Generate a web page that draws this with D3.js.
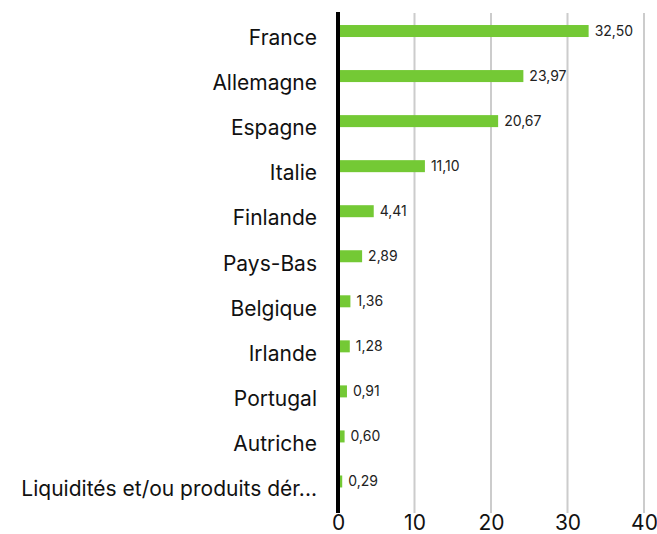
<!DOCTYPE html>
<html>
<head>
<meta charset="utf-8">
<script src="https://cdn.jsdelivr.net/npm/d3@7"></script>
<style>
  body { margin: 0; background: #fff; }
  text { font-family: "Inter", "Roboto", sans-serif; }
</style>
</head>
<body>
<div id="chart"></div>
<script>
const countries = ["France", "Allemagne", "Espagne", "Italie", "Finlande", "Pays-Bas",
    "Belgique", "Irlande", "Portugal", "Autriche", "Liquidités et/ou produits dér..."];
const weights = [32.50, 23.97, 20.67, 11.10, 4.41, 2.89, 1.36, 1.28, 0.91, 0.60, 0.29];
const xTicks = [0, 10, 20, 30, 40];

const svg = d3.select("#chart").append("svg").attr("width", 657).attr("height", 534);
const margin = { top: 12, right: 13, bottom: 21, left: 338 };
const width = 657 - margin.left - margin.right;
const height = 534 - margin.top - margin.bottom;
const g = svg.append("g").attr("transform", `translate(${margin.left},${margin.top})`);

const x = d3.scaleLinear().domain([0, 40]).range([0, 306]);
const y = d3.scaleBand().domain(countries).range([-3.5, height - 9]).padding(0);
const barH = 12;
const fmt = v => d3.format(".2f")(v).replace(".", ",");

// gridlines
g.selectAll(".grid")
    .data(xTicks.slice(1))
    .enter().append("line")
    .attr("class", "grid")
    .attr("x1", d => x(d)).attr("x2", d => x(d))
    .attr("y1", 1).attr("y2", height)
    .attr("stroke", "#cccccc")
    .attr("stroke-width", 2);

// zero line
g.append("line")
    .attr("x1", 0).attr("x2", 0)
    .attr("y1", 0).attr("y2", height)
    .attr("stroke", "#000")
    .attr("stroke-width", 4);

g.selectAll(".bar")
    .data(weights)
    .enter().append("rect")
    .attr("class", "bar")
    .attr("x", 2)
    .attr("y", (d, i) => y(countries[i]) + y.bandwidth() / 2 - barH / 2)
    .attr("width", d => x(d))
    .attr("height", barH)
    .attr("fill", "#74c935");

g.selectAll(".val")
    .data(weights)
    .enter().append("text")
    .attr("class", "val")
    .attr("x", d => x(d) + 8)
    .attr("y", (d, i) => y(countries[i]) + y.bandwidth() / 2)
    .attr("dy", "0.35em")
    .style("font-size", "14px")
    .attr("fill", "#222")
    .text(d => fmt(d));

const yAxis = g.append("g").call(d3.axisLeft(y).tickSize(0).tickPadding(21));
yAxis.select(".domain").remove();
yAxis.selectAll("text")
    .style("font-size", "21px")
    .attr("dy", "0.68em")
    .attr("fill", "#111");

const xAxis = g.append("g")
    .attr("transform", `translate(0,${height})`)
    .call(d3.axisBottom(x).tickValues(xTicks).tickSize(0).tickPadding(2));
xAxis.select(".domain").remove();
xAxis.selectAll("text").style("font-size", "21px").attr("fill", "#111");
</script>
</body>
</html>
